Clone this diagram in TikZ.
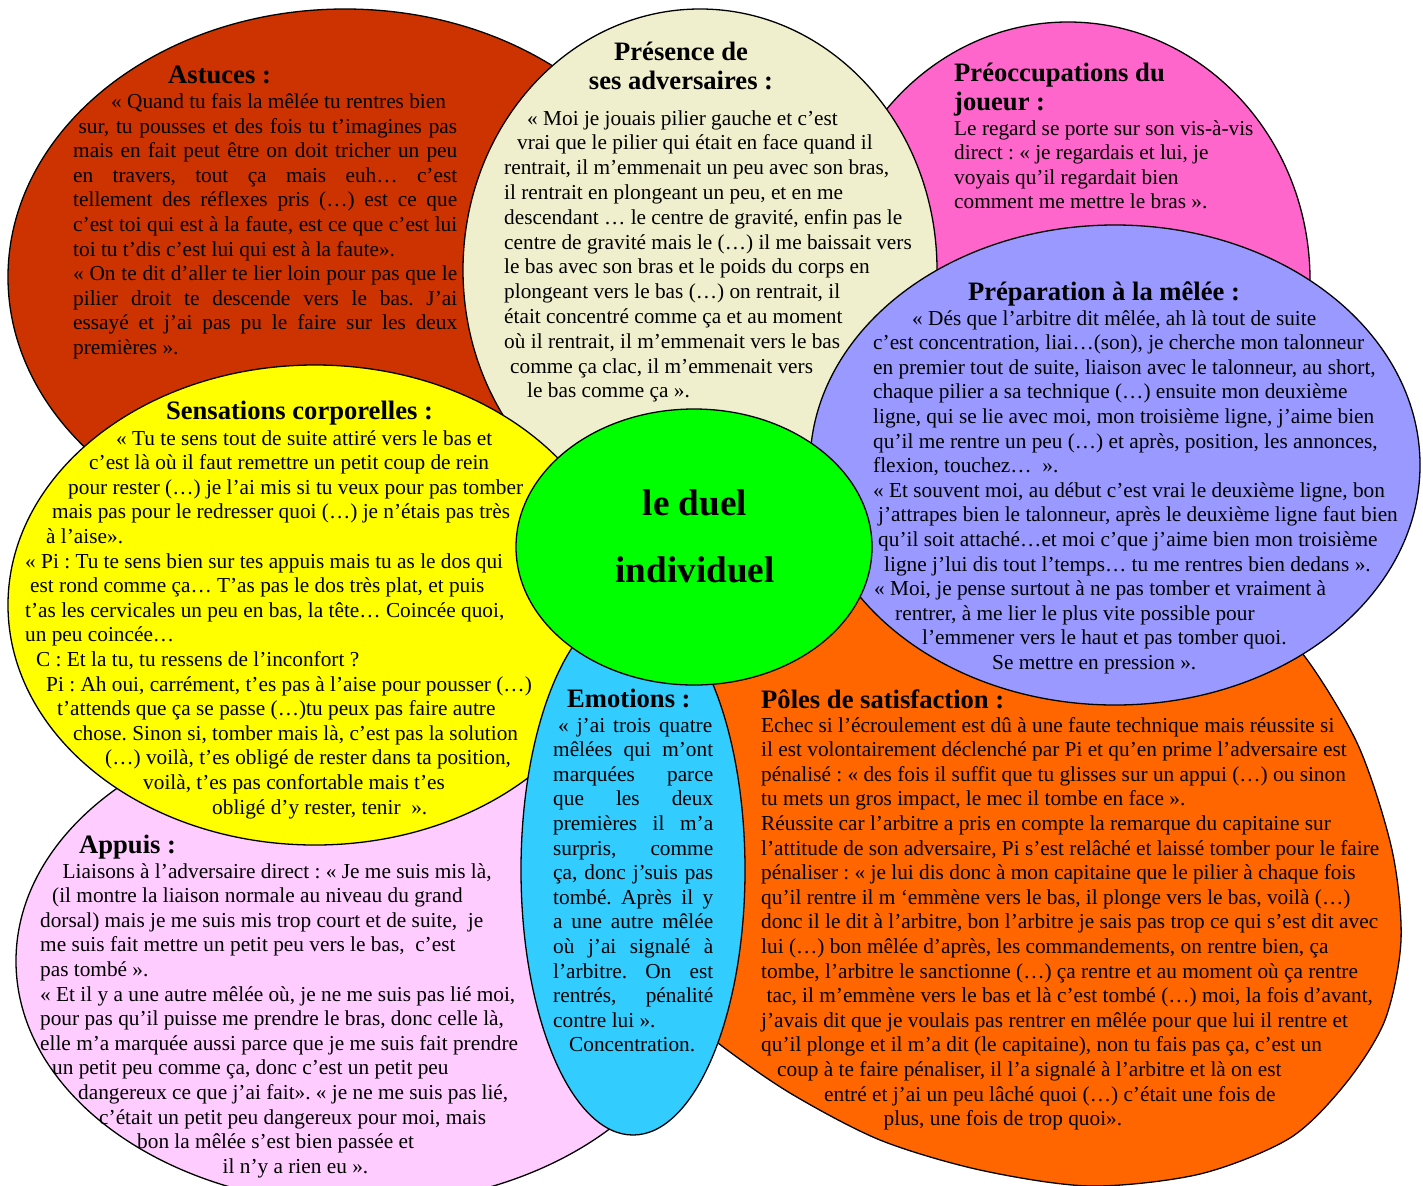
\documentclass[tikz,border=0pt]{standalone}
\usepackage{fontspec}
\setmainfont{Liberation Serif}
\frenchspacing
\definecolor{cRed}{HTML}{CC3300}
\definecolor{cPink}{HTML}{FF66CC}
\definecolor{cCream}{HTML}{EFEFCD}
\definecolor{cOrange}{HTML}{FF6600}
\definecolor{cLav}{HTML}{9999FF}
\definecolor{cLpink}{HTML}{FFCCFF}
\definecolor{cYellow}{HTML}{FFFF00}
\definecolor{cCyan}{HTML}{33CCFF}
\definecolor{cGreen}{HTML}{00FF00}
\begin{document}
\frenchspacing
\begin{tikzpicture}[x=1bp,y=-1bp,
  shp/.style={draw=black, line width=1.3bp},
  ttl/.style={font=\fontsize{26.6bp}{29bp}\selectfont\bfseries, inner sep=0pt},
  body/.style={font=\fontsize{21.3bp}{24.6bp}\selectfont\frenchspacing, inner sep=0pt, align=left, anchor=base west}]
\fill[white] (0,0) rectangle (1423,1185);
\useasboundingbox (0,0) rectangle (1423,1185);

% Astuces
\path[shp, fill=cRed] (345,277) ellipse [x radius=337bp, y radius=268bp];
\node[ttl, anchor=base west] (tAst) at (168,83) {Astuces :};
\node[body] (bAst) at (73,354.5) {\hspace*{38bp}« Quand tu fais la mêlée tu rentres bien\\
\hspace*{5.5bp}\makebox[378.5bp][s]{sur, tu pousses et des fois tu t’imagines pas}\\
\makebox[384bp][s]{mais en fait peut être on doit tricher un peu}\\
\makebox[384bp][s]{en travers, tout ça mais euh… c’est}\\
\makebox[384bp][s]{tellement des réflexes pris (…) est ce que}\\
\makebox[384bp][s]{c’est toi qui est à la faute, est ce que c’est lui}\\
toi tu t’dis c’est lui qui est à la faute».\\
\makebox[384bp][s]{« On te dit d’aller te lier loin pour pas que le}\\
\makebox[384bp][s]{pilier droit te descende vers le bas. J’ai}\\
\makebox[384bp][s]{essayé et j’ai pas pu le faire sur les deux}\\
premières ».};

% Preoccupations
\path[shp, fill=cPink] (1068,280) ellipse [x radius=242bp, y radius=258bp];
\node[ttl, anchor=base west, align=left] (tPreo) at (954,110) {Préoccupations du\\joueur :};
\node[body] (bPreo) at (954,208.8) {Le regard se porte sur son vis-à-vis\\
direct : « je regardais et lui, je\\
voyais qu’il regardait bien\\
comment me mettre le bras ».};

% Presence
\path[shp, fill=cCream] (700,270) ellipse [x radius=237bp, y radius=261bp];
\node[ttl, anchor=base, align=center] (tPres) at (681,89) {Présence de\\ses adversaires :};
\node[body, font=\fontsize{21.3bp}{24.8bp}\selectfont\frenchspacing] (bPres) at (504,397.8) {\hspace*{23bp}« Moi je jouais pilier gauche et c’est\\
\hspace*{13bp}vrai que le pilier qui était en face quand il\\
rentrait, il m’emmenait un peu avec son bras,\\
il rentrait en plongeant un peu, et en me\\
descendant … le centre de gravité, enfin pas le\\
centre de gravité mais le (…) il me baissait vers\\
le bas avec son bras et le poids du corps en\\
plongeant vers le bas (…) on rentrait, il\\
était concentré comme ça et au moment\\
où il rentrait, il m’emmenait vers le bas\\
\hspace*{6bp}comme ça clac, il m’emmenait vers\\
\hspace*{23bp}le bas comme ça ».};

% Poles
\path[shp, fill=cOrange] plot[smooth cycle] coordinates {(1302,653) (1358,745) (1392,850) (1401,940) (1385,1020) (1346,1083) (1290,1138) (1200,1174) (1090,1186) (980,1170) (880,1140) (790,1093) (718,1043) (672,1002) (650,940) (645,860) (655,780) (680,710) (720,660) (790,615) (870,588) (960,572) (1070,570) (1180,585) (1250,610)};
\node[ttl, anchor=base west] (tPol) at (761,708) {Pôles de satisfaction :};
\node[body] (bPol) at (761,1125.6) {Echec si l’écroulement est dû à une faute technique mais réussite si\\
il est volontairement déclenché par Pi et qu’en prime l’adversaire est\\
pénalisé : « des fois il suffit que tu glisses sur un appui (…) ou sinon\\
tu mets un gros impact, le mec il tombe en face ».\\
Réussite car l’arbitre a pris en compte la remarque du capitaine sur\\
l’attitude de son adversaire, Pi s’est relâché et laissé tomber pour le faire\\
pénaliser : « je lui dis donc à mon capitaine que le pilier à chaque fois\\
qu’il rentre il m ‘emmène vers le bas, il plonge vers le bas, voilà (…)\\
donc il le dit à l’arbitre, bon l’arbitre je sais pas trop ce qui s’est dit avec\\
lui (…) bon mêlée d’après, les commandements, on rentre bien, ça\\
tombe, l’arbitre le sanctionne (…) ça rentre et au moment où ça rentre\\
\hspace*{5.5bp}tac, il m’emmène vers le bas et là c’est tombé (…) moi, la fois d’avant,\\
j’avais dit que je voulais pas rentrer en mêlée pour que lui il rentre et\\
qu’il plonge et il m’a dit (le capitaine), non tu fais pas ça, c’est un\\
\hspace*{16bp}coup à te faire pénaliser, il l’a signalé à l’arbitre et là on est\\
\hspace*{63bp}entré et j’ai un peu lâché quoi (…) c’était une fois de\\
\hspace*{122.5bp}plus, une fois de trop quoi».};

% Preparation
\path[shp, fill=cLav] (1115,465) ellipse [x radius=305bp, y radius=240bp];
\node[ttl, anchor=base] (tPrep) at (1104,300) {Préparation à la mêlée :};
\node[body] (bPrep) at (873,669.4) {\hspace*{39bp}« Dés que l’arbitre dit mêlée, ah là tout de suite\\
c’est concentration, liai…(son), je cherche mon talonneur\\
en premier tout de suite, liaison avec le talonneur, au short,\\
chaque pilier a sa technique (…) ensuite mon deuxième\\
ligne, qui se lie avec moi, mon troisième ligne, j’aime bien\\
qu’il me rentre un peu (…) et après, position, les annonces,\\
flexion, touchez…\ \ ».\\
« Et souvent moi, au début c’est vrai le deuxième ligne, bon\\
\hspace*{5bp}j’attrapes bien le talonneur, après le deuxième ligne faut bien\\
\hspace*{5bp}qu’il soit attaché…et moi c’que j’aime bien mon troisième\\
\hspace*{11bp}ligne j’lui dis tout l’temps… tu me rentres bien dedans ».\\
\hspace*{1bp}« Moi, je pense surtout à ne pas tomber et vraiment à\\
\hspace*{22bp}rentrer, à me lier le plus vite possible pour\\
\hspace*{49bp}l’emmener vers le haut et pas tomber quoi.\\
\hspace*{119bp}Se mettre en pression ».};

% Appuis
\path[shp, fill=cLpink] (360,961) ellipse [x radius=344bp, y radius=244bp];
\node[ttl, anchor=base west] (tApp) at (79,853) {Appuis :};
\node[body] (bApp) at (40,1173.2) {\hspace*{22.5bp}Liaisons à l’adversaire direct : « Je me suis mis là,\\
\hspace*{12bp}(il montre la liaison normale au niveau du grand\\
dorsal) mais je me suis mis trop court et de suite,\ \ je\\
me suis fait mettre un petit peu vers le bas,\ \ c’est\\
pas tombé ».\\
« Et il y a une autre mêlée où, je ne me suis pas lié moi,\\
pour pas qu’il puisse me prendre le bras, donc celle là,\\
elle m’a marquée aussi parce que je me suis fait prendre\\
\hspace*{12bp}un petit peu comme ça, donc c’est un petit peu\\
\hspace*{38bp}dangereux ce que j’ai fait». « je ne me suis pas lié,\\
\hspace*{59bp}c’était un petit peu dangereux pour moi, mais\\
\hspace*{97bp}bon la mêlée s’est bien passée et\\
\hspace*{182.5bp}il n’y a rien eu ».};

% Sensations
\path[shp, fill=cYellow] (315,605) ellipse [x radius=307bp, y radius=240bp];
\node[ttl, anchor=base] (tSens) at (299.5,419) {Sensations corporelles :};
\node[body] (bSens) at (25,814) {\hspace*{91bp}« Tu te sens tout de suite attiré vers le bas et\\
\hspace*{64bp}c’est là où il faut remettre un petit coup de rein\\
\hspace*{43bp}pour rester (…) je l’ai mis si tu veux pour pas tomber\\
\hspace*{27bp}mais pas pour le redresser quoi (…) je n’étais pas très\\
\hspace*{21bp}à l’aise».\\
« Pi : Tu te sens bien sur tes appuis mais tu as le dos qui\\
\hspace*{5bp}est rond comme ça… T’as pas le dos très plat, et puis\\
t’as les cervicales un peu en bas, la tête… Coincée quoi,\\
un peu coincée…\\
\hspace*{11bp}C : Et la tu, tu ressens de l’inconfort ?\\
\hspace*{21bp}Pi : Ah oui, carrément, t’es pas à l’aise pour pousser (…)\\
\hspace*{32bp}t’attends que ça se passe (…)tu peux pas faire autre\\
\hspace*{48bp}chose. Sinon si, tomber mais là, c’est pas la solution\\
\hspace*{80bp}(…) voilà, t’es obligé de rester dans ta position,\\
\hspace*{118bp}voilà, t’es pas confortable mais t’es\\
\hspace*{187bp}obligé d’y rester, tenir\ \ ».};

% Emotions
\path[shp, fill=cCyan] (633,870) ellipse [x radius=112bp, y radius=265bp];
\node[ttl, anchor=base west] (tEmo) at (567,707) {Emotions :};
\node[body] (bEmo) at (553,1051.8) {\hspace*{5bp}\makebox[154bp][s]{« j’ai trois quatre}\\
\makebox[160bp][s]{mêlées qui m’ont}\\
\makebox[160bp][s]{marquées parce}\\
\makebox[160bp][s]{que les deux}\\
\makebox[160bp][s]{premières il m’a}\\
\makebox[160bp][s]{surpris, comme}\\
\makebox[160bp][s]{ça, donc j’suis pas}\\
\makebox[160bp][s]{tombé. Après il y}\\
\makebox[160bp][s]{a une autre mêlée}\\
\makebox[160bp][s]{où j’ai signalé à}\\
\makebox[160bp][s]{l’arbitre. On est}\\
\makebox[160bp][s]{rentrés, pénalité}\\
contre lui ».\\
\hspace*{16bp}Concentration.};

% Centre
\path[shp, fill=cGreen] (694,547) ellipse [x radius=178bp, y radius=138bp];
\node[font=\fontsize{37.2bp}{67bp}\selectfont\bfseries, inner sep=0pt, align=center, anchor=base] (tDuel) at (695,582) {le duel\\individuel};
\end{tikzpicture}
\end{document}
